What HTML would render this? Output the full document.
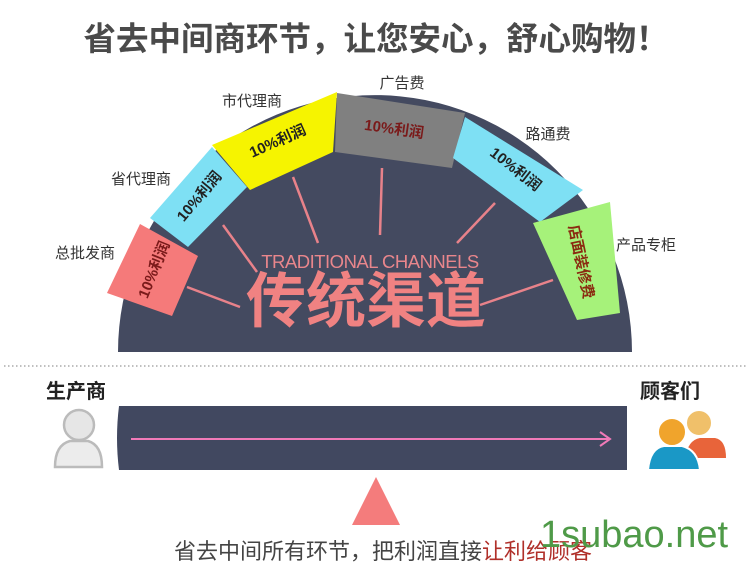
<!DOCTYPE html>
<html><head><meta charset="utf-8"><style>
html,body{margin:0;padding:0;background:#fff;width:750px;height:573px;overflow:hidden}
svg{display:block}
text{font-family:"Liberation Sans","Noto Sans CJK SC",sans-serif}
</style></head><body>
<svg width="750" height="573" viewBox="0 0 750 573" xmlns="http://www.w3.org/2000/svg">
<text x="376" y="50" text-anchor="middle" font-size="32.5" font-weight="bold" fill="#4a4a4a">省去中间商环节，让您安心，舒心购物！</text>

<!-- dome -->
<path d="M118 352 A257 257 0 0 1 632 352 Z" fill="#444a60"/>
<!-- rays -->
<g stroke="#e8828a" stroke-width="2.5">
<line x1="187" y1="287" x2="240" y2="307"/>
<line x1="223" y1="225" x2="257" y2="272"/>
<line x1="293" y1="177" x2="318" y2="243"/>
<line x1="382" y1="168" x2="380" y2="235"/>
<line x1="495" y1="203" x2="457" y2="243"/>
<line x1="553" y1="280" x2="480" y2="305"/>
</g>
<text x="370" y="268" text-anchor="middle" font-size="18.5" fill="#e9868c" letter-spacing="-0.5">TRADITIONAL CHANNELS</text>
<text x="366" y="322" text-anchor="middle" font-size="60" font-weight="bold" fill="#f08282">传统渠道</text>

<!-- boxes -->
<polygon points="107,293 140,224 198,256 172,316" fill="#f57a7a"/>
<polygon points="150,218 212,147 247,187 188,247" fill="#7ee0f4"/>
<polygon points="212,145 337,92 333,152 250,190" fill="#f6f400"/>
<polygon points="337,93 465,113 452,168 335,152" fill="#808080"/>
<polygon points="465,117 583,190 540,222 453,158" fill="#7ee0f4"/>
<polygon points="533,223 610,202 620,313 577,320" fill="#a6f27a"/>

<g font-size="15" font-weight="bold" fill="#7a1a1a">
<text transform="translate(155,270) rotate(-68)" text-anchor="middle" dominant-baseline="middle">10%利润</text>
<text transform="translate(200,197) rotate(-50)" text-anchor="middle" dominant-baseline="middle" fill="#222">10%利润</text>
<text transform="translate(278,142) rotate(-24)" text-anchor="middle" dominant-baseline="middle" fill="#222">10%利润</text>
<text transform="translate(394,130) rotate(8)" text-anchor="middle" dominant-baseline="middle">10%利润</text>
<text transform="translate(515,170) rotate(38)" text-anchor="middle" dominant-baseline="middle" fill="#222">10%利润</text>
<text transform="translate(580,262) rotate(78)" text-anchor="middle" dominant-baseline="middle" fill="#8a2a10">店面装修费</text>
</g>

<g font-size="15" fill="#333">
<text x="85" y="258" text-anchor="middle">总批发商</text>
<text x="141" y="184" text-anchor="middle">省代理商</text>
<text x="252" y="106" text-anchor="middle">市代理商</text>
<text x="402" y="88" text-anchor="middle">广告费</text>
<text x="548" y="139" text-anchor="middle">路通费</text>
<text x="646" y="250" text-anchor="middle">产品专柜</text>
</g>

<line x1="4" y1="366" x2="746" y2="366" stroke="#999" stroke-width="1.2" stroke-dasharray="1.5,2.5"/>

<text x="76" y="398" text-anchor="middle" font-size="20" font-weight="bold" fill="#222">生产商</text>
<text x="670" y="398" text-anchor="middle" font-size="20" font-weight="bold" fill="#222">顾客们</text>

<!-- bar -->
<path d="M119 406 L627 406 L627 470 L119 470 Q115 438 119 406 Z" fill="#414860"/>
<line x1="131" y1="439" x2="608" y2="439" stroke="#f07ab8" stroke-width="2"/>
<polyline points="600,432 610,439 600,446" fill="none" stroke="#f07ab8" stroke-width="2"/>

<!-- left person -->
<path d="M55 467 Q55 445 70 441 L88 441 Q102 445 102 467 Z" fill="#ececec" stroke="#bbb" stroke-width="2.5"/>
<circle cx="79" cy="425" r="15" fill="#e6e6e6" stroke="#bbb" stroke-width="2.5"/>

<!-- right people -->
<path d="M685 458 Q688 440 700 438 L715 438 Q726 440 726 458 Z" fill="#e8643a"/>
<circle cx="699" cy="423" r="13" fill="#f0c06a" stroke="#fff" stroke-width="2"/>
<path d="M648 470 Q650 448 664 446 L682 446 Q698 450 700 470 Z" fill="#1a98c6" stroke="#fff" stroke-width="2"/>
<circle cx="672" cy="432" r="14" fill="#f0a42c" stroke="#fff" stroke-width="2"/>

<polygon points="352,525 400,525 376,477" fill="#f47c7c"/>

<text x="383" y="559" text-anchor="middle" font-size="22" fill="#444">省去中间所有环节，把利润直接<tspan fill="#b0302a">让利给顾客</tspan></text>
<text x="634" y="547" text-anchor="middle" font-size="38" fill="#4f9a48">1subao.net</text>
</svg>
</body></html>
